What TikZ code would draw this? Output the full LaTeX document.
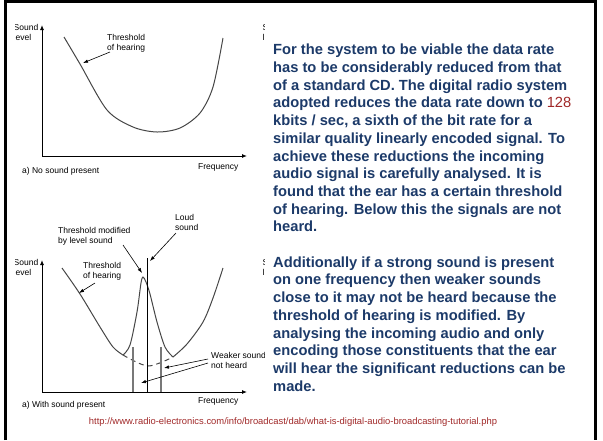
\documentclass[tikz,border=0pt]{standalone}
\usepackage{fontspec}
\setsansfont{Liberation Sans}
\usetikzlibrary{positioning, arrows.meta}

\definecolor{slideblue}{RGB}{28,58,105}
\definecolor{linkred}{RGB}{160,40,40}
\definecolor{curvegray}{RGB}{70,70,70}
\definecolor{weakgray}{RGB}{120,120,120}

\tikzset{
  lbl/.style={font=\sffamily\fontsize{8.5}{10}\selectfont, inner sep=0pt, align=left},
  axisline/.style={-{Latex[length=5pt,width=4pt]}, line width=0.9pt},
  pointer/.style={-{Latex[length=5pt,width=3.5pt]}, line width=0.6pt},
  curve/.style={line width=1pt, curvegray},
}

\begin{document}
\begin{tikzpicture}[x=1pt, y=-1pt]
    \useasboundingbox (0,0) rectangle (603,440);  % slide proportions

    % ---- a) no sound present ----
    \coordinate (oa) at (42,156);
    \coordinate (ya) at (42,25);
    \coordinate (xa) at (247,156);
    \draw[axisline] (oa) -- (ya);
    \draw[axisline] (oa) -- (xa);
    \draw[curve] plot[smooth] coordinates {(64,37) (80,64) (107,110) (133,127) (157,132) (180,128) (200,113) (213,87) (223,38)};
    \begin{scope}
        \clip (15.5,10) rectangle (41,60);  % left edge cut off
        \node[lbl, anchor=north west] (levela) at (13.5,24) {Sound\\level};
    \end{scope}
    \node[lbl, anchor=north west] (thra) at (107,34) {Threshold\\of hearing};
    \coordinate (thratip) at (83,63);
    \draw[pointer] (110,52) -- (thratip);
    \node[lbl, anchor=north west] (freqa) at (198,163) {Frequency};
    \node[lbl, anchor=north west] (capa) at (22,167) {a) No sound present};

    % ---- b) with sound present ----
    \coordinate (ob) at (42,392);
    \coordinate (yb) at (42,260);
    \coordinate (xb) at (247,392);
    \draw[axisline] (ob) -- (yb);
    \draw[axisline] (ob) -- (xb);
    \draw[curve] plot[smooth] coordinates {(62,268) (80,294) (100,327) (113,347) (123,355)};
    \draw[curve] plot[smooth] coordinates {(123,355) (130,345) (137,312) (141,283) (143,277) (146,282) (150,294) (157,322) (165,347) (173,357)};
    \draw[curve] plot[smooth] coordinates {(173,357) (187,344) (203,322) (213,298) (223,268)};
    \draw[curve, dashed, dash pattern=on 5pt off 4pt] plot[smooth] coordinates {(123,355) (148,366) (173,357)};
    \coordinate (loudtop) at (147,258);
    \coordinate (loudbot) at (147,392);
    \draw[line width=0.8pt] (loudtop) -- (loudbot);  % loud sound
    \foreach \x in {133,161} {
        \draw[weakgray, line width=1.2pt] (\x,347) -- (\x,392);  % weaker sounds
    }
    \begin{scope}
        \clip (15.5,250) rectangle (41,290);
        \node[lbl, anchor=north west] (levelb) at (13.5,259) {Sound\\level};
    \end{scope}
    \node[lbl, anchor=north west] (loud) at (175,214) {Loud\\sound};
    \draw[pointer] (176,233) -- (150,261);
    \node[lbl, anchor=north west] (modif) at (58,227) {Threshold modified\\by level sound};
    \draw[pointer] (123,245) -- (142,273);
    \node[lbl, anchor=north west] (thrb) at (83,262) {Threshold\\of hearing};
    \draw[pointer] (95,283) -- (79,293);
    \node[lbl, anchor=north west] (weak) at (211,352) {Weaker sound\\not heard};
    \draw[pointer] (208,359) -- (164,368);
    \draw[pointer] (208,363) -- (141,383);
    \node[lbl, anchor=north west] (freqb) at (198,397) {Frequency};
    \node[lbl, anchor=north west] (capb) at (22,401) {a) With sound present};

    % bits of hidden pictures behind the text
    \begin{scope}
        \clip (262,15) rectangle (264.5,300);
        \foreach \y [count=\i] in {24,259} {
            \node[lbl, anchor=north west] (hidS\i) at (262.5,\y) {S};
            \node[lbl, anchor=north west] (hidl\i) at (262.5,\y+10) {l};
        }
    \end{scope}

    % ---- text box ----
    \fill[white] (264.5,20) rectangle (592,410);
    \node[anchor=north west, inner sep=0pt, align=left, text=slideblue,
          font=\sffamily\bfseries\fontsize{14.7}{17.7}\selectfont] (body) at (273,44)
      {For the system to be viable the data rate\\
       has to be considerably reduced from that\\
       of a standard CD. The digital radio system\\
       adopted reduces the data rate down to {\mdseries\color{linkred}128}\\
       kbits / sec, a sixth of the bit rate for a\\
       similar quality linearly encoded signal. To\\
       achieve these reductions the incoming\\
       audio signal is carefully analysed. It is\\
       found that the ear has a certain threshold\\
       of hearing. Below this the signals are not\\
       heard.\\[17.7pt]
       Additionally if a strong sound is present\\
       on one frequency then weaker sounds\\
       close to it may not be heard because the\\
       threshold of hearing is modified. By\\
       analysing the incoming audio and only\\
       encoding those constituents that the ear\\
       will hear the significant reductions can be\\
       made.};
    \node[inner sep=0pt, text=linkred, font=\sffamily\fontsize{9.4}{11}\selectfont] (url) at (293,422)
      {http://www.radio-electronics.com/info/broadcast/dab/what-is-digital-audio-broadcasting-tutorial.php};

    % slide frame
    \draw[line width=3pt] (5,440) -- (5,1.5) -- (595,1.5) -- (595,440);
\end{tikzpicture}
\end{document}
